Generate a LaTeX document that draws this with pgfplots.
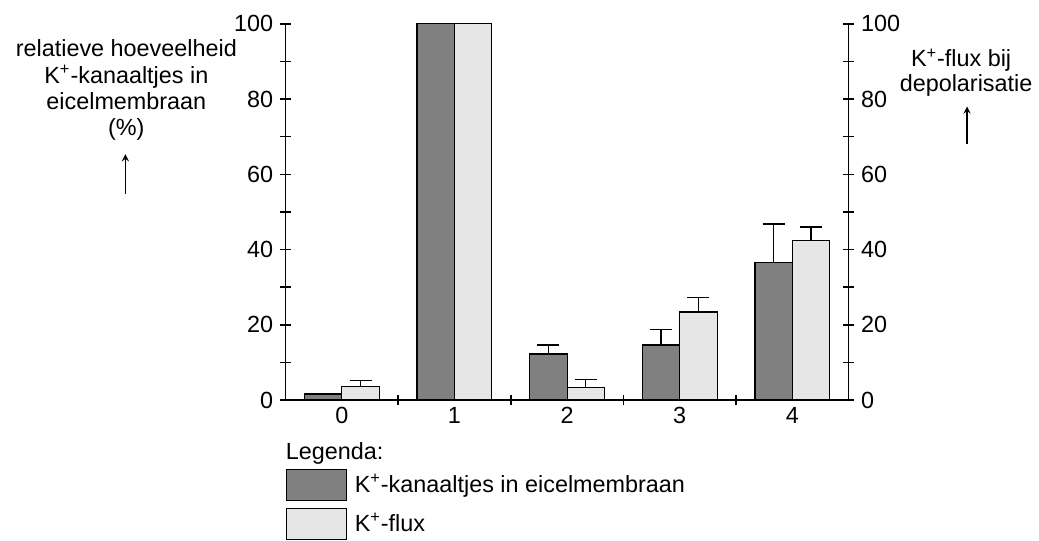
\documentclass[border=0pt]{standalone}
\usepackage{fontspec}
\setmainfont{Liberation Sans}
\usepackage{pgfplots}
\pgfplotsset{compat=1.18}
\usepackage{pgfplotstable}

\definecolor{darkbar}{HTML}{808080}
\definecolor{lightbar}{HTML}{E6E6E6}

\pgfplotstableread{
x y e
-0.166 1.6 0
0.834 100 0
1.834 12.2 2.4
2.834 14.6 4.1
3.834 36.5 10.3
}\darktab
\pgfplotstableread{
x y e
0.166 3.5 1.6
1.166 100 0
2.166 3.4 2.0
3.166 23.4 3.8
4.166 42.5 3.5
}\lighttab

\pgfplotsset{legbox/.style={legend image code/.code={\draw[##1,line width=0.6pt] (0pt,-7.75pt) rectangle (30pt,7.75pt);}}}

\begin{document}
\begin{tikzpicture}[font=\fontsize{11.75}{14}\selectfont]
\begin{scope}[x=0.5pt,y=-0.5pt]
\useasboundingbox (0,0) rectangle (1039,536);
\end{scope}
\pgfplotsset{common/.style={
  scale only axis, width=283pt, height=189pt, at={(143.5pt,-201pt)}, anchor=south west,
  xmin=-0.5,xmax=4.5,ymin=0,ymax=100,
  ytick={0,20,...,100}, minor ytick={10,30,50,70,90},
  tick align=center, major tick length=5.5pt, minor tick length=5.5pt,
  every tick/.style={black,line width=0.75pt},
  axis line style={line width=0.75pt},
  /pgf/number format/assume math mode=true,
  tick label style={font=\fontsize{11.75}{14}\selectfont},
}}
\begin{axis}[common, axis x line*=bottom, axis y line*=left,
  xtick={0.5,1.5,2.5,3.5}, xticklabels={},
  extra x ticks={0,1,2,3,4}, extra x tick style={major tick length=0pt},
  legend style={at={(0,0)}, anchor=north west, yshift=-34.5pt, draw=none, fill=none,
    inner sep=0pt, row sep=3.5pt, column sep=4pt, nodes={inner sep=0pt, anchor=west},
    font=\fontsize{11.75}{14}\selectfont},
  legend cell align=left,
]
\addplot[ybar, bar width=18.8pt, bar shift=0pt, fill=darkbar, draw=black, line width=0.6pt,
  legbox,
  error bars/.cd, y dir=plus, y explicit,
  error bar style={line width=0.6pt,black},
  error mark options={line width=0.6pt, mark size=5.5pt, black, rotate=90}]
  table[x=x,y=y,y error=e]{\darktab};
\addlegendentry{K\textsuperscript{+}-kanaaltjes in eicelmembraan}
\addplot[ybar, bar width=18.8pt, bar shift=0pt, fill=lightbar, draw=black, line width=0.6pt,
  legbox,
  error bars/.cd, y dir=plus, y explicit,
  error bar style={line width=0.6pt,black},
  error mark options={line width=0.6pt, mark size=5.5pt, black, rotate=90}]
  table[x=x,y=y,y error=e]{\lighttab};
\addlegendentry{K\textsuperscript{+}-flux}
\end{axis}
\begin{axis}[common, axis x line=none, axis y line*=right]
\addplot[draw=none] coordinates {(0,0)};
\end{axis}
\begin{scope}[x=0.5pt,y=-0.5pt]
\node[anchor=base] at (127,57) {relatieve hoeveelheid};
\node[anchor=base] at (127,84) {K\textsuperscript{+}-kanaaltjes in};
\node[anchor=base] at (127,110) {eicelmembraan};
\node[anchor=base] at (127,136) {(\%)};
\draw[-stealth, line width=0.6pt] (126,195) -- (126,155);
\node[anchor=base] at (966,67) {K\textsuperscript{+}-flux bij};
\node[anchor=base] at (971,92) {depolarisatie};
\draw[-stealth, line width=0.6pt] (972,145) -- (972,107);
\node[anchor=base west, inner sep=0pt] at (287,462) {Legenda:};
\end{scope}
\end{tikzpicture}
\end{document}
